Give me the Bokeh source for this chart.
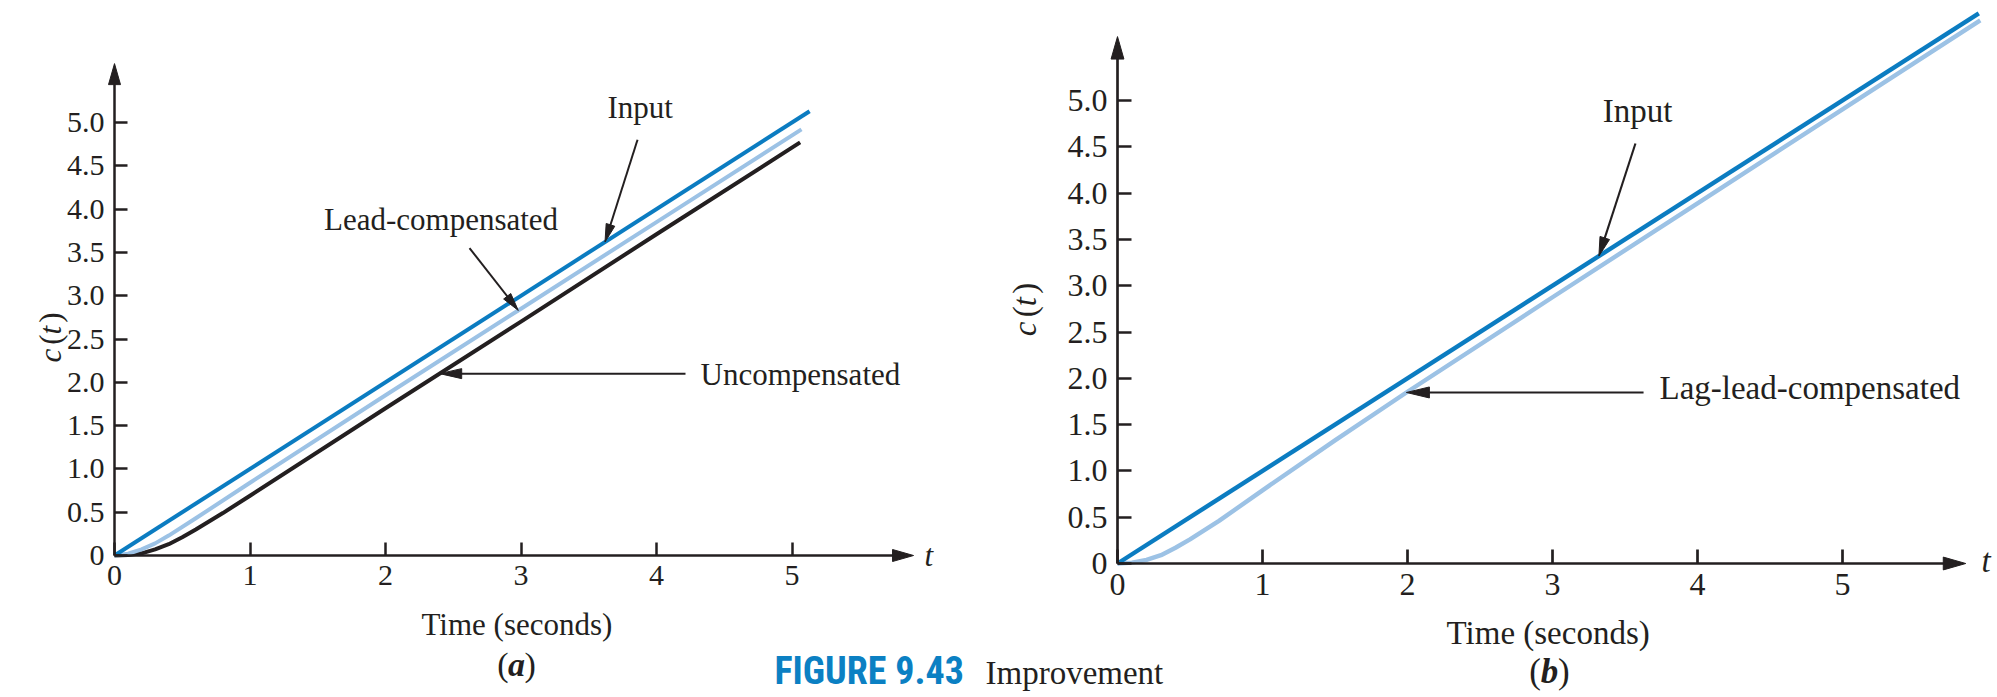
import math
import numpy as np
from bokeh.plotting import figure
from bokeh.models import Range1d, LinearAxis, FixedTicker, Label, Arrow, PolyAnnotation
from bokeh.embed import file_html
from bokeh.resources import INLINE

# ---------------- data ----------------
# (a) ramp responses: input, lead-compensated, uncompensated
a_input_t = [0.0, 5.13]
a_input_c = [0.0, 5.13]
a_lead_t = [0.0, 0.1, 0.2, 0.3, 0.4, 0.6, 1.0, 2.0, 3.0, 4.0, 5.07]
a_lead_c = [0.0, 0.02, 0.07, 0.14, 0.23, 0.43, 0.84, 1.85, 2.85, 3.85, 4.92]
a_uncomp_t = [0.0, 0.1, 0.2, 0.3, 0.4, 0.5, 0.6, 0.8, 1.0, 2.0, 3.0, 4.0, 5.06]
a_uncomp_c = [0.0, 0.005, 0.025, 0.07, 0.13, 0.21, 0.30, 0.49, 0.69, 1.70, 2.70, 3.71, 4.77]

# (b) ramp responses: input, lag-lead-compensated
b_input_t = [0.0, 5.94]
b_input_c = [0.0, 5.94]
b_laglead_t = [0.0, 0.1, 0.2, 0.3, 0.4, 0.5, 0.7, 1.0, 1.5, 2.0, 3.0, 4.0, 5.0, 5.95]
b_laglead_c = [0.0, 0.01, 0.04, 0.09, 0.17, 0.26, 0.46, 0.79, 1.33, 1.855, 2.875, 3.89, 4.905, 5.865]

x_ticks = [0, 1, 2, 3, 4, 5]
x_tick_labels = ["0", "1", "2", "3", "4", "5"]
y_ticks = [0, 0.5, 1.0, 1.5, 2.0, 2.5, 3.0, 3.5, 4.0, 4.5, 5.0]
y_tick_labels = ["0", "0.5", "1.0", "1.5", "2.0", "2.5", "3.0", "3.5", "4.0", "4.5", "5.0"]

# ---------------- style ----------------
INK = "#231f20"
INPUT_BLUE = "#0b7cc1"
LIGHT_BLUE = "#9cc2e5"
CAPTION_BLUE = "#0b80c3"
SERIF = "Liberation Serif"
CAPTION_SANS = "Liberation Sans Narrow, Roboto Condensed, Roboto"
BASELINE_LIFT = 0.36  # em, lifts alphabetic-baseline labels onto their baseline

W, H = 1997, 697

# origin (canvas px from top-left) and px per unit for each panel
PA = dict(ox=114, oy=555, sx=135.5, sy=86.6, xr="default", yr="default", k=1.0)
PB = dict(ox=1117, oy=563, sx=145.0, sy=92.6, xr="tb", yr="cb", k=1.07)


def x_span(P):
    return Range1d(-P["ox"] / P["sx"], (W - P["ox"]) / P["sx"])


def y_span(P):
    return Range1d((P["oy"] - H) / P["sy"], P["oy"] / P["sy"])


def to_screen(P, t, c):
    # data -> screen units of the full-canvas frame (x from left, y from bottom)
    return P["ox"] + t * P["sx"], H - (P["oy"] - c * P["sy"])


p = figure(width=W, height=H, x_range=x_span(PA), y_range=y_span(PA),
           x_axis_location=None, y_axis_location=None, min_border=0,
           output_backend="svg", toolbar_location=None)
p.extra_x_ranges = {"tb": x_span(PB)}
p.extra_y_ranges = {"cb": y_span(PB)}
p.outline_line_color = None
p.grid.visible = False
p.background_fill_color = "white"
p.border_fill_color = "white"


def add_axes(P, label_px, tick_len, lw):
    common = dict(x_range_name=P["xr"], y_range_name=P["yr"], fixed_location=0,
                  axis_line_color=None, major_tick_in=tick_len, major_tick_out=0,
                  major_tick_line_width=lw, major_tick_line_color=INK,
                  minor_tick_line_color=None,
                  major_label_text_font=SERIF,
                  major_label_text_font_size=f"{label_px}px",
                  major_label_text_color=INK)
    xax = LinearAxis(ticker=FixedTicker(ticks=x_ticks),
                     major_label_overrides=dict(zip(x_ticks, x_tick_labels)),
                     major_label_standoff=10, **common)
    yax = LinearAxis(ticker=FixedTicker(ticks=y_ticks),
                     major_label_overrides=dict(zip(y_ticks, y_tick_labels)),
                     major_label_standoff=10, **common)
    p.add_layout(xax, "below")
    p.add_layout(yax, "left")


def head(P, tip, direction, length, width, color=INK):
    dx, dy = direction
    n = math.hypot(dx, dy)
    ux, uy = dx / n, dy / n
    sx0, sy0 = to_screen(P, tip[0], tip[1])
    bx, by = -ux * length, -uy * length
    nx, ny = -uy * width / 2, ux * width / 2
    xs = [sx0, sx0 + bx + nx, sx0 + bx - nx]
    ys = [sy0, sy0 + by + ny, sy0 + by - ny]
    p.add_layout(PolyAnnotation(xs=xs, ys=ys, xs_units="screen", ys_units="screen",
                                fill_color=color, fill_alpha=1.0, line_color=color,
                                line_width=1, line_alpha=1.0))


def arrow_line(P, start, tip, lw, head_len, head_w):
    dx = (tip[0] - start[0]) * P["sx"]
    dy = (tip[1] - start[1]) * P["sy"]
    n = math.hypot(dx, dy)
    back = 0.7 * head_len / n
    end = (tip[0] - (tip[0] - start[0]) * back, tip[1] - (tip[1] - start[1]) * back)
    p.add_layout(Arrow(end=None, x_start=start[0], y_start=start[1], x_end=end[0], y_end=end[1],
                       line_color=INK, line_width=lw, x_range_name=P["xr"], y_range_name=P["yr"]))
    head(P, tip, (dx, dy), head_len, head_w)


def text(P, x, y, s, size, style="normal", align="left", baseline="alphabetic",
         angle=0.0, xo=0, yo=0, color=INK, font=SERIF):
    if baseline == "alphabetic":
        yo += BASELINE_LIFT * size
    p.add_layout(Label(x=x, y=y, text=s, x_range_name=P["xr"], y_range_name=P["yr"],
                       text_font=font, text_font_size=f"{size}px", text_font_style=style,
                       text_align=align, text_baseline=baseline, text_color=color,
                       angle=angle, x_offset=xo, y_offset=yo))


def frame_axes(P, x_tip, y_tip):
    k = P["k"]
    lw = 2.5 * k
    hl, hw = 21 * k, 12 * k
    p.add_layout(Arrow(end=None, x_start=0, y_start=0, x_end=x_tip - 0.6 * hl / P["sx"], y_end=0,
                       line_color=INK, line_width=lw, x_range_name=P["xr"], y_range_name=P["yr"]))
    p.add_layout(Arrow(end=None, x_start=0, y_start=0, x_end=0, y_end=y_tip - 0.6 * hl / P["sy"],
                       line_color=INK, line_width=lw, x_range_name=P["xr"], y_range_name=P["yr"]))
    head(P, (x_tip, 0), (1, 0), hl, hw)
    head(P, (0, y_tip), (0, 1), hl, hw)


def c_of_t_label(P, x, y, size):
    k = P["k"]
    pieces = [("c", "italic", -18.1), ("(", "normal", -2.0), ("t", "italic", 7.4), (")", "normal", 19.9)]
    for s, st, off in pieces:
        text(P, x, y, s, size, style=st, align="center", baseline="middle",
             angle=math.pi / 2, yo=off * k)


def panel_tag(P, x, y, letter, size):
    k = P["k"]
    text(P, x, y, "(", size, align="right", xo=-8 * k)
    text(P, x, y, letter, size, style="bold italic", align="center")
    text(P, x, y, ")", size, align="left", xo=8 * k)


# ---------------- panel (a) ----------------
add_axes(PA, 30, 13, 2.5)
frame_axes(PA, 5.897, 5.68)

p.line(a_uncomp_t, a_uncomp_c, line_color=INK, line_width=4, line_cap="butt", line_join="round")
p.line(a_lead_t, a_lead_c, line_color=LIGHT_BLUE, line_width=4, line_cap="butt", line_join="round")
p.line(a_input_t, a_input_c, line_color=INPUT_BLUE, line_width=4, line_cap="butt", line_join="round")

tip_in_a = (3.62, float(np.interp(3.62, a_input_t, a_input_c)))
text(PA, 3.88, 5.046, "Input", 31, align="center")
arrow_line(PA, (3.86, 4.80), tip_in_a, 2.0, 18, 9)

tip_lead_a = (2.98, float(np.interp(2.98, a_lead_t, a_lead_c)))
text(PA, 2.41, 3.75, "Lead-compensated", 31, align="center")
arrow_line(PA, (2.62, 3.55), tip_lead_a, 2.0, 18, 9)

c_unc = 2.10
tip_unc_a = (float(np.interp(c_unc, a_uncomp_c, a_uncomp_t)), c_unc)
text(PA, 4.325, 1.963, "Uncompensated", 31, align="left")
arrow_line(PA, (4.214, c_unc), tip_unc_a, 2.0, 22, 10)

text(PA, 5.978, -0.127, "t", 31, style="italic")
text(PA, 2.97, -0.924, "Time (seconds)", 31, align="center")
panel_tag(PA, 2.967, -1.397, "a", 34)
c_of_t_label(PA, -0.47, 2.517, 31)

# ---------------- panel (b) ----------------
add_axes(PB, 32, 14, 2.7)
frame_axes(PB, 5.85, 5.69)

p.line(b_laglead_t, b_laglead_c, x_range_name="tb", y_range_name="cb",
       line_color=LIGHT_BLUE, line_width=4.4, line_cap="butt", line_join="round")
p.line(b_input_t, b_input_c, x_range_name="tb", y_range_name="cb",
       line_color=INPUT_BLUE, line_width=4.4, line_cap="butt", line_join="round")

tip_in_b = (3.32, float(np.interp(3.32, b_input_t, b_input_c)))
text(PB, 3.586, 4.762, "Input", 33, align="center")
arrow_line(PB, (3.572, 4.536), tip_in_b, 2.1, 19, 10)

c_ll = 1.847
tip_ll_b = (float(np.interp(c_ll, b_laglead_c, b_laglead_t)), c_ll)
text(PB, 3.738, 1.771, "Lag-lead-compensated", 33, align="left")
arrow_line(PB, (3.628, c_ll), tip_ll_b, 2.1, 23, 11)

text(PB, 5.959, -0.097, "t", 33, style="italic")
text(PB, 2.97, -0.875, "Time (seconds)", 33, align="center")
panel_tag(PB, 2.979, -1.307, "b", 35)
c_of_t_label(PB, -0.64, 2.743, 33)

# ---------------- caption ----------------
p.add_layout(Label(x=774, y=13, x_units="screen", y_units="screen", text="FIGURE 9.43",
                   text_font=CAPTION_SANS, text_font_size="38px", text_font_style="bold",
                   text_color=CAPTION_BLUE, text_baseline="alphabetic",
                   y_offset=BASELINE_LIFT * 38))
p.add_layout(Label(x=985, y=13, x_units="screen", y_units="screen", text="Improvement",
                   text_font=SERIF, text_font_size="33px", text_color=INK,
                   text_baseline="alphabetic", y_offset=BASELINE_LIFT * 33))

open("out.html", "w").write(file_html(p, INLINE))
